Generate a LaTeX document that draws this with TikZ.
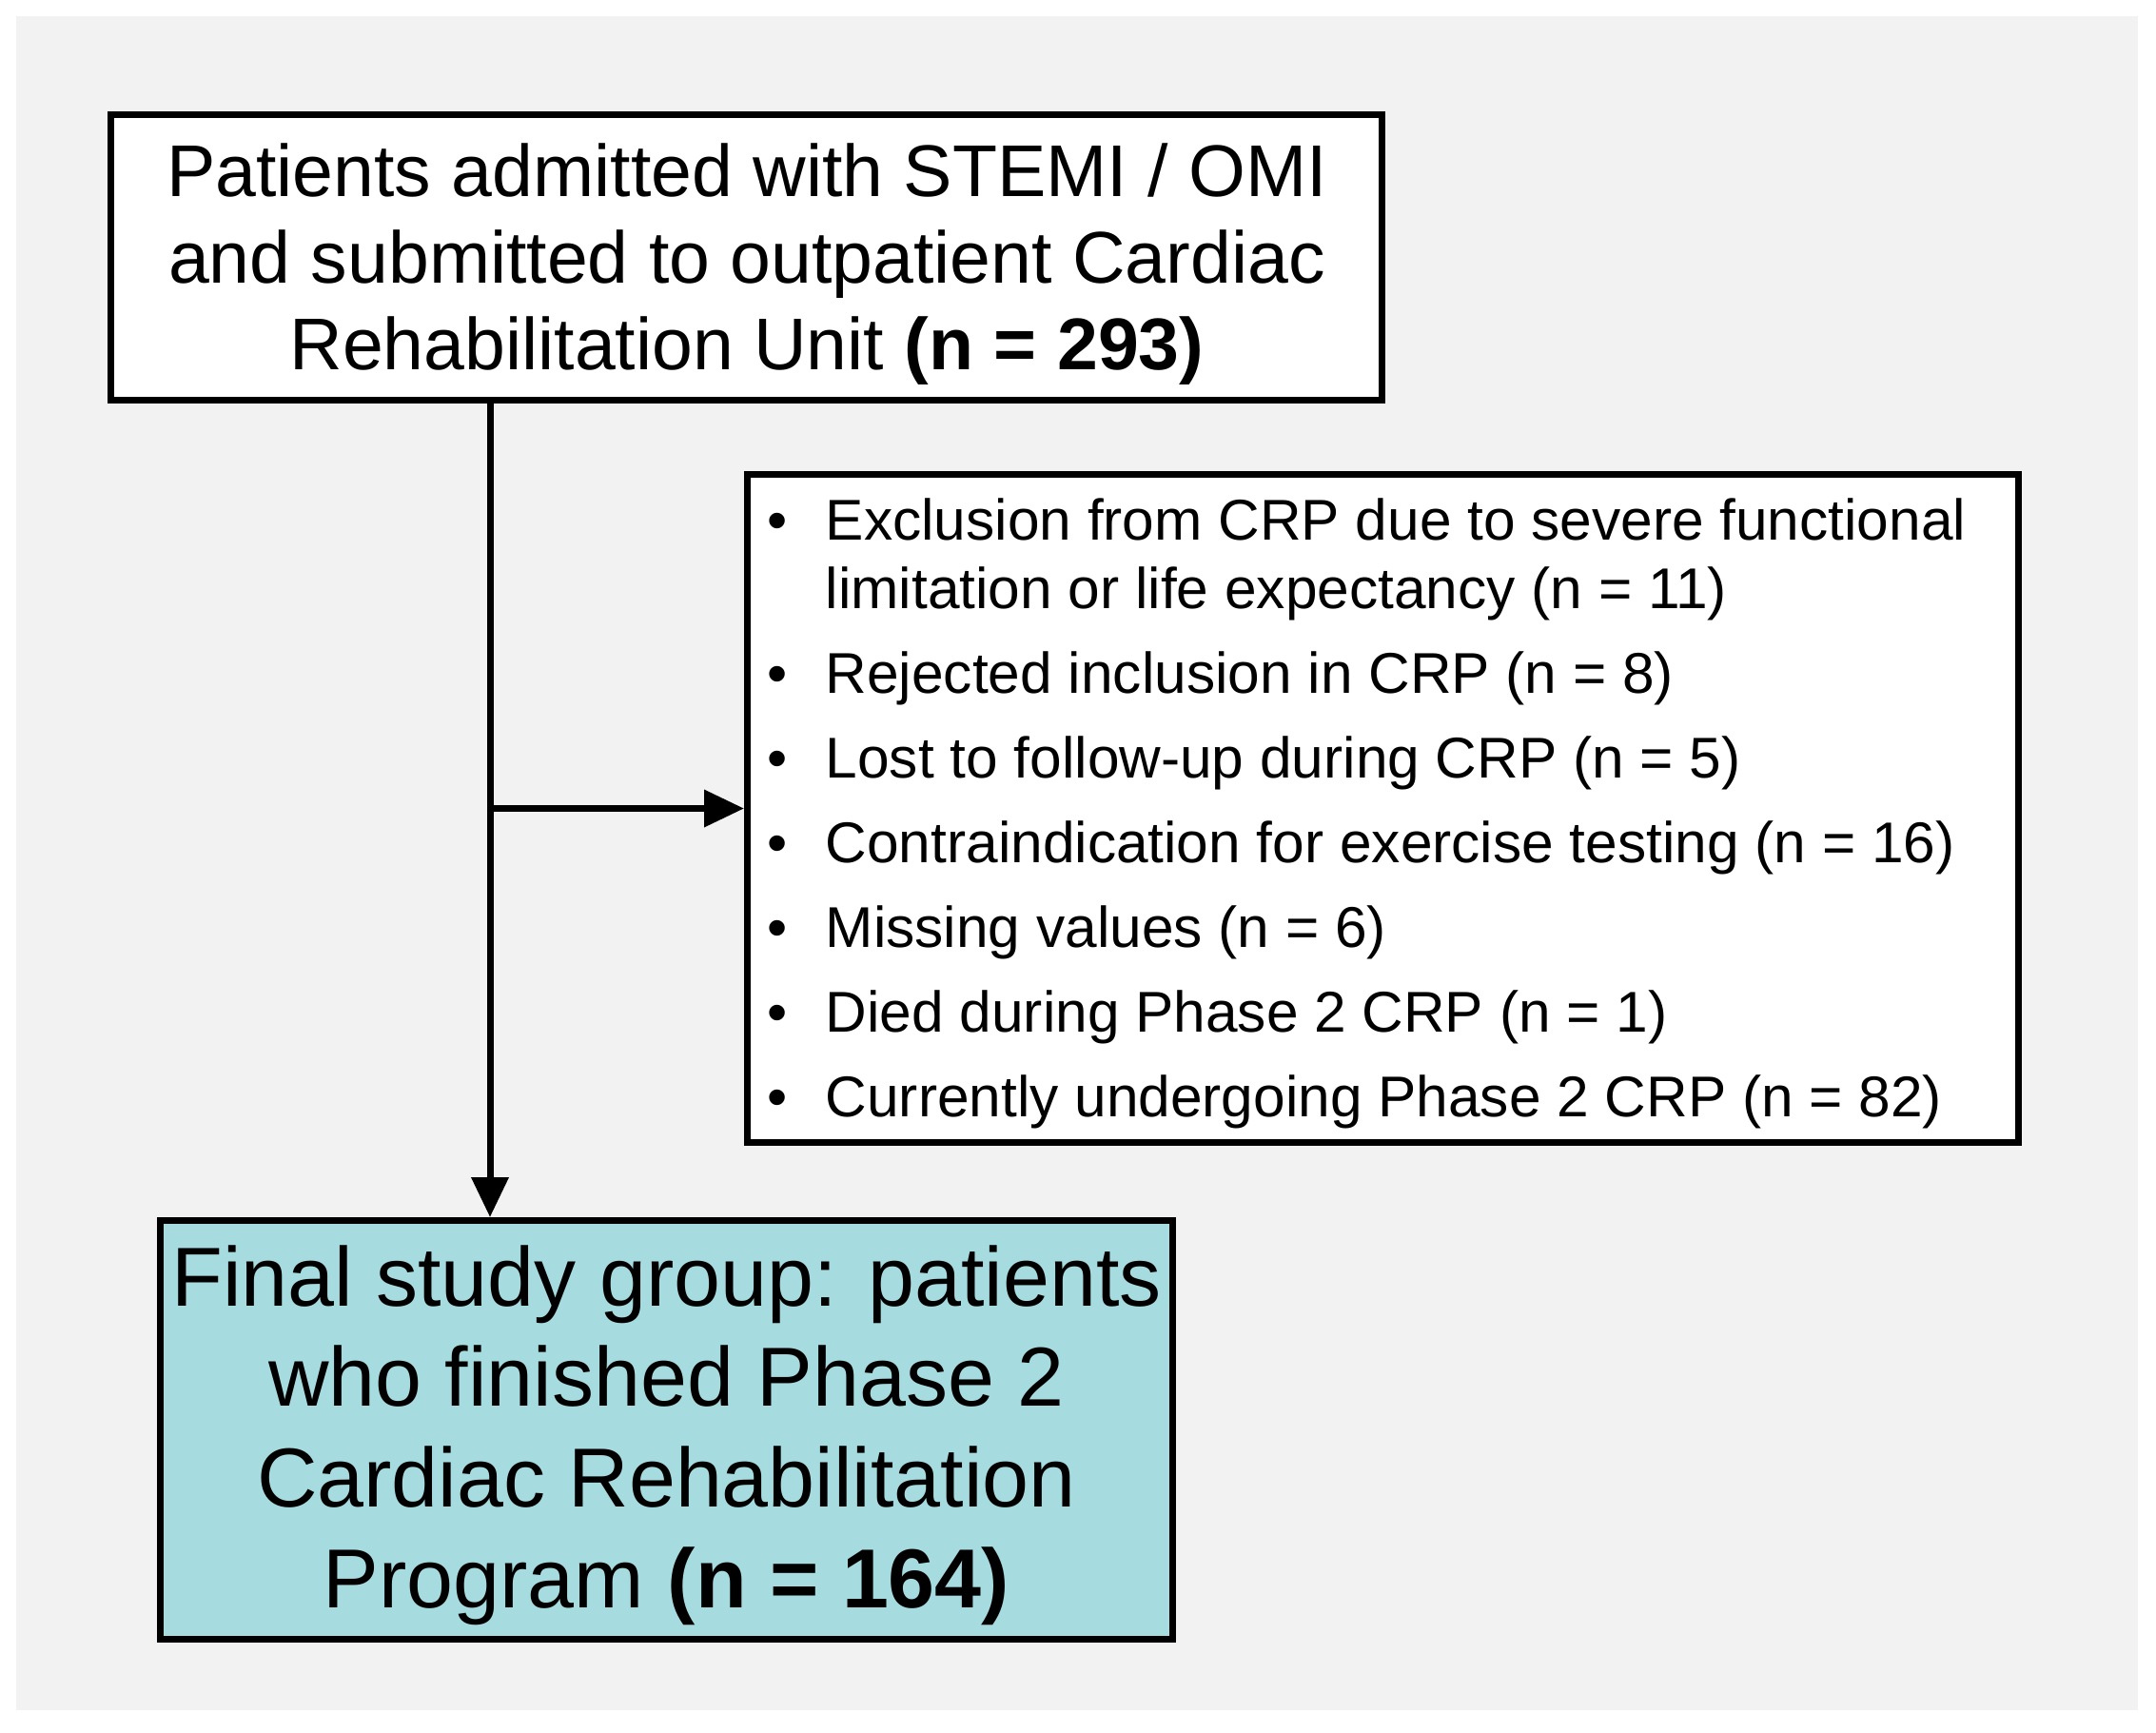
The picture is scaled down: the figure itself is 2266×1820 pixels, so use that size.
\documentclass[tikz,border=0pt]{standalone}
\usepackage{fontspec}
\setmainfont{Liberation Sans}
\usetikzlibrary{arrows.meta}
\definecolor{bggray}{HTML}{F2F2F2}
\definecolor{finalfill}{HTML}{A6DBE0}
\tikzset{
  box/.style={draw=black, line width=1.75pt, rectangle, inner sep=0pt},
  boxtext/.style={align=center, inner sep=0pt},
  conn/.style={line width=1.75pt, -{Triangle[length=10.5pt,width=9.5pt]}},
  item/.style={anchor=base west, inner sep=0pt, font=\fontsize{15.1}{18}\selectfont},
}
\begin{document}
\begin{tikzpicture}[x=0.25pt,y=-0.25pt]
\useasboundingbox (0,0) rectangle (2266,1820);
\fill[white] (0,0) rectangle (2266,1820);
\fill[bggray] (17,17) rectangle (2247,1797);
\node[box, fill=white, minimum width=334pt, minimum height=75pt] (top) at (784,270.5) {};
\node[boxtext, font=\fontsize{19.25}{22.75}\selectfont] (toptext) at (785,278)
  {Patients admitted with STEMI / OMI\\and submitted to outpatient Cardiac\\Rehabilitation Unit \textbf{(n = 293)}};
\node[box, fill=white, minimum width=334pt, minimum height=175.5pt] (excl) at (1453.5,849.5) {};
\node[box, fill=finalfill, minimum width=266pt, minimum height=110pt] (final) at (700.5,1502.5) {};
\node[boxtext, font=\fontsize{22}{26.4}\selectfont] (finaltext) at (700.5,1508)
  {Final study group: patients\\who finished Phase 2\\Cardiac Rehabilitation\\Program \textbf{(n = 164)}};
\node[item] (i1a) at (806,567) {\makebox[15.25pt][l]{•}Exclusion from CRP due to severe functional};
\node[item] (i1b) at (867,639) {limitation or life expectancy (n = 11)};
\node[item] (i2) at (806,728) {\makebox[15.25pt][l]{•}Rejected inclusion in CRP (n = 8)};
\node[item] (i3) at (806,817) {\makebox[15.25pt][l]{•}Lost to follow-up during CRP (n = 5)};
\node[item] (i4) at (806,906) {\makebox[15.25pt][l]{•}Contraindication for exercise testing (n = 16)};
\node[item] (i5) at (806,995) {\makebox[15.25pt][l]{•}Missing values (n = 6)};
\node[item] (i6) at (806,1084) {\makebox[15.25pt][l]{•}Died during Phase 2 CRP (n = 1)};
\node[item] (i7) at (806,1173) {\makebox[15.25pt][l]{•}Currently undergoing Phase 2 CRP (n = 82)};
\coordinate (j) at (515,849.5);
\draw[conn] (top.south -| j) -- (final.north -| j);
\draw[conn] (j) -- (excl.west);
\end{tikzpicture}
\end{document}
